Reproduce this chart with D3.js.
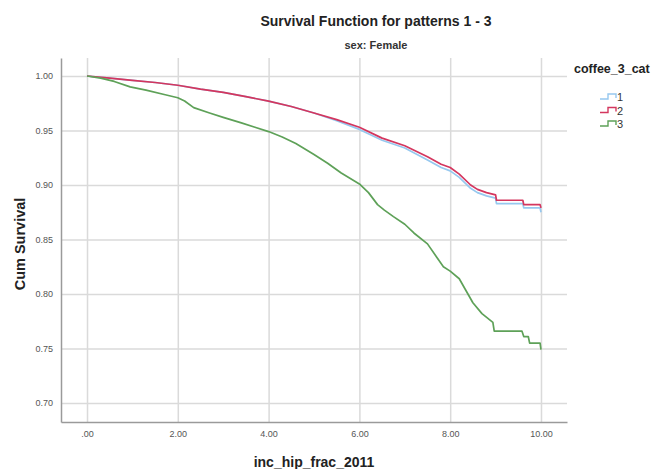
<!DOCTYPE html>
<html>
<head>
<meta charset="utf-8">
<script src="https://cdn.jsdelivr.net/npm/d3@7"></script>
<style>
  body { margin: 0; background: #fff; }
  svg { display: block; font-family: "Liberation Sans", Arial, sans-serif; }
</style>
</head>
<body>
<div id="chart"></div>
<script>
// Kaplan-Meier curves: [years, cum survival]
// the dense early part is drawn as a line, the late steps are given explicitly
const pattern1 = [
  [0, 1.000], [0.5, 0.998], [1.0, 0.996], [1.5, 0.994], [2.0, 0.9915], [2.5, 0.988],
  [3.0, 0.985], [3.5, 0.981], [4.0, 0.977], [4.5, 0.972], [5.0, 0.966], [5.5, 0.959],
  [6.0, 0.951], [6.5, 0.941], [7.0, 0.934], [7.5, 0.923], [7.8, 0.916], [8.0, 0.913],
  [8.2, 0.907], [8.45, 0.897], [8.6, 0.893], [8.8, 0.890], [9.0, 0.888], [9.02, 0.883],
  [9.6, 0.883], [9.62, 0.879], [9.98, 0.879], [10.0, 0.875]
];
const pattern2 = [
  [0, 1.000], [0.5, 0.998], [1.0, 0.996], [1.5, 0.994], [2.0, 0.9915], [2.5, 0.988],
  [3.0, 0.985], [3.5, 0.981], [4.0, 0.977], [4.5, 0.972], [5.0, 0.966], [5.5, 0.960],
  [6.0, 0.953], [6.5, 0.943], [7.0, 0.936], [7.5, 0.926], [7.8, 0.919], [8.0, 0.916],
  [8.2, 0.910], [8.45, 0.900], [8.6, 0.896], [8.8, 0.893], [9.0, 0.891], [9.02, 0.886],
  [9.6, 0.886], [9.62, 0.882], [9.98, 0.882], [10.0, 0.879]
];
const pattern3 = [
  [0, 1.000], [0.3, 0.998], [0.6, 0.995], [0.95, 0.990], [1.3, 0.987], [1.7, 0.983],
  [2.0, 0.980], [2.15, 0.977], [2.35, 0.971], [2.7, 0.966], [3.0, 0.962], [3.4, 0.957],
  [3.7, 0.953], [4.0, 0.949], [4.3, 0.944], [4.6, 0.938], [5.0, 0.928], [5.3, 0.920],
  [5.6, 0.911], [6.0, 0.901], [6.2, 0.893], [6.4, 0.882], [6.55, 0.877], [6.75, 0.871],
  [7.0, 0.864], [7.2, 0.856], [7.5, 0.846], [7.7, 0.834], [7.85, 0.825], [8.0, 0.821],
  [8.2, 0.814], [8.35, 0.803], [8.5, 0.792], [8.7, 0.782], [8.94, 0.774], [8.97, 0.766],
  [9.58, 0.766], [9.62, 0.761], [9.72, 0.761], [9.75, 0.755], [9.98, 0.755], [10.0, 0.749]
];

const categories = ["1", "2", "3"];
const xTicks = [0, 2, 4, 6, 8, 10];
const xTickLabels = [".00", "2.00", "4.00", "6.00", "8.00", "10.00"];
const yTicks = [0.70, 0.75, 0.80, 0.85, 0.90, 0.95, 1.00];
const yTickLabels = ["0.70", "0.75", "0.80", "0.85", "0.90", "0.95", "1.00"];

const W = 663, H = 469;
const plot = { left: 61, right: 567, top: 58, bottom: 422 };

const svg = d3.select("#chart").append("svg")
  .attr("width", W)
  .attr("height", H);

const x = d3.scaleLinear().domain([-0.573, 10.573]).range([plot.left, plot.right]);
const y = d3.scaleLinear().domain([0.6826, 1.0165]).range([plot.bottom, plot.top]);

const color = d3.scaleOrdinal()
  .domain(categories)
  .range(["#96c8ef", "#d4365e", "#5ea158"]);

// gridlines
svg.append("g")
  .attr("transform", `translate(0,${plot.bottom})`)
  .call(d3.axisBottom(x).tickValues(xTicks).tickSize(-(plot.bottom - plot.top)).tickFormat(""))
  .call(g => g.select(".domain").remove())
  .call(g => g.selectAll("line").attr("stroke", "#dadada").attr("stroke-width", 1.5));

svg.append("g")
  .attr("transform", `translate(${plot.left},0)`)
  .call(d3.axisLeft(y).tickValues(yTicks).tickSize(-(plot.right - plot.left)).tickFormat(""))
  .call(g => g.select(".domain").remove())
  .call(g => g.selectAll("line").attr("stroke", "#dadada").attr("stroke-width", 1.5));

// axes
const xAxis = svg.append("g")
  .attr("transform", `translate(0,${plot.bottom})`)
  .call(d3.axisBottom(x).tickValues(xTicks).tickSize(0).tickSizeOuter(0).tickPadding(9)
    .tickFormat((d, i) => xTickLabels[i]));

const yAxis = svg.append("g")
  .attr("transform", `translate(${plot.left},0)`)
  .call(d3.axisLeft(y).tickValues(yTicks).tickSize(0).tickSizeOuter(0).tickPadding(8)
    .tickFormat((d, i) => yTickLabels[i]));

[xAxis, yAxis].forEach(a => {
  a.select(".domain").attr("stroke", "#9a9a9a").attr("stroke-width", 1.5);
  a.selectAll("text").attr("fill", "#555").style("font-size", "9px")
    .style("font-family", "'Liberation Sans Narrow', 'Liberation Sans', Arial, sans-serif");
});

// survival curves
const line = d3.line()
  .x(d => x(d[0]))
  .y(d => y(d[1]));

const series = [
  { key: "1", values: pattern1 },
  { key: "2", values: pattern2 },
  { key: "3", values: pattern3 }
];

svg.append("g").selectAll("path")
  .data(series)
  .join("path")
  .attr("fill", "none")
  .attr("stroke", d => color(d.key))
  .attr("stroke-width", 1.7)
  .attr("stroke-linejoin", "round")
  .attr("d", d => line(d.values));

// titles
svg.append("text")
  .attr("x", 376).attr("y", 26)
  .attr("text-anchor", "middle")
  .style("font-family", "'Liberation Sans Narrow', 'Liberation Sans', Arial, sans-serif")
  .style("font-weight", "bold").style("font-size", "14px").attr("fill", "#222")
  .text("Survival Function for patterns 1 - 3");

svg.append("text")
  .attr("x", 376).attr("y", 49)
  .attr("text-anchor", "middle")
  .style("font-family", "'Liberation Sans Narrow', 'Liberation Sans', Arial, sans-serif")
  .style("font-weight", "bold").style("font-size", "11px").attr("fill", "#333")
  .text("sex: Female");

svg.append("text")
  .attr("x", (plot.left + plot.right) / 2).attr("y", 467)
  .attr("text-anchor", "middle")
  .style("font-weight", "bold").style("font-size", "14px").attr("fill", "#222")
  .text("inc_hip_frac_2011");

svg.append("text")
  .attr("transform", "rotate(-90)")
  .attr("x", -244).attr("y", 25)
  .attr("text-anchor", "middle")
  .style("font-weight", "bold").style("font-size", "14.5px").attr("fill", "#222")
  .text("Cum Survival");

// legend
const legend = svg.append("g").attr("transform", "translate(574,0)");
legend.append("text")
  .attr("x", 0).attr("y", 73)
  .style("font-weight", "bold").style("font-size", "12.5px").attr("fill", "#222")
  .text("coffee_3_cat");

const item = legend.selectAll("g.item")
  .data(categories)
  .join("g")
  .attr("class", "item")
  .attr("transform", (d, i) => `translate(0,${97 + i * 13.5})`);

item.append("path")
  .attr("fill", "none")
  .attr("stroke", d => color(d))
  .attr("stroke-width", 1.4)
  .attr("d", "M26,2H34V-3H42V1");

item.append("text")
  .attr("x", 43).attr("y", 4)
  .style("font-size", "11px").attr("fill", "#333")
  .text(d => d);
</script>
</body>
</html>
